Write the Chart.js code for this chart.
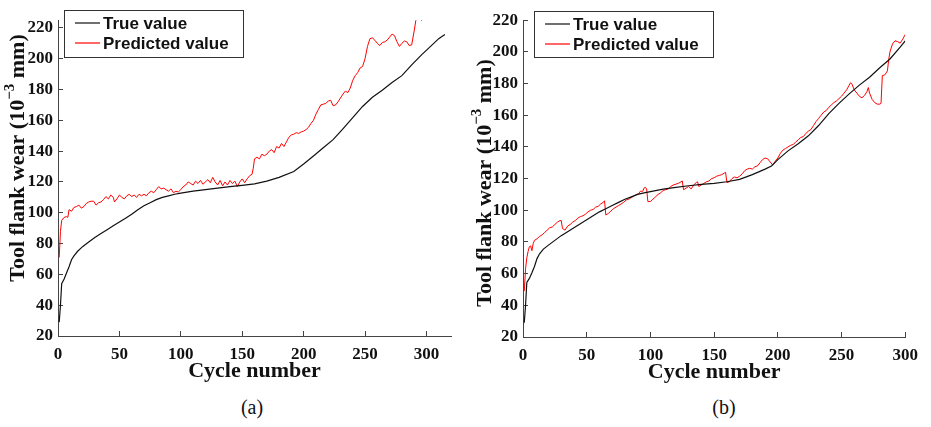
<!DOCTYPE html>
<html>
<head>
<meta charset="utf-8">
<script src="https://cdn.jsdelivr.net/npm/chart.js@4.4.0/dist/chart.umd.min.js"></script>
<style>
  body { margin: 0; background: #fff; width: 931px; height: 427px; position: relative; overflow: hidden; }
  .panel { position: absolute; top: 0; width: 465px; height: 390px; }
  .cap { position: absolute; top: 396px; width: 60px; text-align: center; font: 20px "Liberation Serif", serif; color: #111; }
</style>
</head>
<body>
<div class="panel" style="left:0"><canvas id="chartA"></canvas></div>
<div class="panel" style="left:466px"><canvas id="chartB"></canvas></div>
<div class="cap" style="left:222px">(a)</div>
<div class="cap" style="left:694px">(b)</div>
<script>
// ---- data ----
const yTicks = [20, 40, 60, 80, 100, 120, 140, 160, 180, 200, 220];
const xTicks = [0, 50, 100, 150, 200, 250, 300];

// (a)
const cycTrueA = [1,2,3,5,7,9,11,13,16,20,25,30,35,40,45,50,55,60,65,70,75,80,85,90,95,100,110,120,130,140,150,160,170,180,192,200,208,216,224,232,240,248,256,264,272,280,288,296,304,310,315];
const trueA    = [29,40,54,57,61,65,69.5,72,75,78,81,84,86.5,89,91.5,94,96.5,99,102,104.5,106.5,108.5,110,111,112,112.8,114,115,116,117,117.8,118.7,120.5,123,126.8,131.6,136.9,142.2,147.5,154.5,161.8,169,175,179.5,184.5,189,196,202.5,208.5,213,215.7];

const cycPredA = [1,2,3,5,7,8,9,11,13,15,17,19,21,23,25,27,29,31,33,35,37,39,41,43,45,46,48,50,52,54,56,58,60,62,64,66,68,70,72,74,76,78,80,82,84,86,88,90,92,94,96,98,100,102,104,106,108,110,112,114,116,118,120,122,124,126,128,130,132,134,136,138,140,142,144,146,148,150,152,154,156,158,159,160,162,164,166,168,170,172,174,176,178,180,182,184,186,188,190,192,194,196,198,200,202,204,206,208,210,212,214,216,218,220,222,224,226,228,230,232,234,236,238,240,242,244,246,248,250,252,254,256,258,260,262,264,266,268,270,272,274,276,278,280,282,284,286,288,290,292,294,296,298,300];
const predA    = [71,88,95,97,97.5,97,102,101,103.5,104,105,103,104,106,107,107.5,107.5,105,106.5,107,108.5,110.5,109,111.5,110,107,109,111.5,110,109,111,112,110.5,111.5,110,112,111,112,111,113,114,113,115,117,115.5,116,115,114,115.5,113,114,113.5,115,117,118,120,119,118,120.5,119,121,118.5,120,121.5,119.5,123,120,118,121,117.5,120,118,121,119,120.5,117,120,122,119.5,122,124,125,129,135,136,135,138,137,138,140,141,139,143,142,145,143,146,149,150.5,151,152,151.5,152.5,153,154,155.5,158,160,164,167,170,170.5,171,172.5,173,169.5,170,172,174.5,177,179,178,181,186,189,191,194,195,200,208,213,213.5,212,210,208.5,210.5,211,212,214,216,215,211,208,210,211.5,211,208.5,209,218,228,234,224.8,232,240];

// (b)
const cycTrueB = [1,2,3,5,7,9,11,13,16,20,25,30,35,40,45,50,55,60,65,70,75,80,85,90,95,100,110,120,130,140,150,160,170,180,190,195,200,208,216,224,232,240,248,256,264,272,280,288,296,300];
const trueB    = [29,40,54.5,57,60.5,64.5,69.5,72.5,75.5,78,81,84,86.5,89,91.5,94,96.5,99,101,103,105,107,108.5,110,111,111.8,113.3,114.5,115.5,116.3,117,118,119.5,122.5,126,128,132,137.5,142,147,153.5,161,167.5,173.5,179,184,190,195.5,203,207];

const cycPredB = [1,2,3,4,5,6,7,8,9,11,13,15,17,19,21,23,25,27,29,30,31,33,35,37,39,41,43,45,47,49,51,53,55,57,59,61,63,64,65,67,69,71,73,75,77,79,81,83,85,87,89,91,92,94,95,96,97,98,100,102,104,106,108,110,112,114,116,118,120,122,124,125,126,128,130,132,134,136,137,138,140,142,144,146,148,150,152,154,156,158,159,160,162,164,166,168,170,172,174,176,178,180,182,184,186,188,190,192,194,196,198,200,202,204,206,208,210,212,214,216,218,220,222,224,226,228,230,232,234,236,238,240,242,244,246,248,250,252,254,256,257,258,260,262,264,266,268,270,271,272,274,276,278,280,281,282,284,286,287,288,290,292,294,296,298,300];
const predB    = [49,63,70,74,77,77.5,74.5,79,81,82,83.5,84.5,86,87.5,89,89.5,91,92.5,93.5,93.5,88.5,87.5,90,91,92.5,93.5,95,96,96.5,97.5,99,100,100.5,102,102.5,104,105,106,97,98,99.5,101,102,103,104,105,106.5,107,108,109,110,110.5,112,112,114,114.5,113.5,105.5,105.5,107,108.5,110,111,112.5,113,113.5,115,116,116.5,117,118,118.5,113,114,115,113.5,116,117.5,118,115,116,117,118,118.5,120,120.5,121.5,122,122.5,123.5,124,117.5,118,120,121,120.5,121.5,123,125,126,126.5,126,127.5,128,130,132,133,132.5,130.5,128.5,131,133,136,138,139,140,141,141.5,143,144.5,146,146.5,148.5,150,151,153.5,156,158,160,162,163,165,166.5,168,169,170.5,172,174,176,179,180.5,180,176,174,172,171,172.5,175,177.5,174,170,168,167,167,167.5,185,185.5,188,195,200,205,207,206.5,205.5,208,211];

const seriesNames = ['True value', 'Predicted value'];
const seriesColors = ['#111111', '#ff0000'];

// ---- helpers ----
const serif = '"Liberation Serif", "Times New Roman", serif';
const pts = (xs, ys) => xs.map((x, i) => ({ x: x, y: ys[i] }));

const boxLegend = {
  id: 'boxLegend',
  afterDraw(chart, args, o) {
    const ctx = chart.ctx;
    ctx.save();
    ctx.strokeStyle = '#333';
    ctx.lineWidth = 1;
    ctx.strokeRect(o.x + 0.5, o.y + 0.5, o.w, o.h);
    ctx.font = 'bold 17px "Liberation Sans", Arial, sans-serif';
    ctx.textBaseline = 'middle';
    chart.data.datasets.forEach((ds, i) => {
      const yy = o.y + 13 + i * 20;
      ctx.strokeStyle = ds.borderColor;
      ctx.lineWidth = 1.2;
      ctx.beginPath();
      ctx.moveTo(o.x + 11, yy);
      ctx.lineTo(o.x + 36, yy);
      ctx.stroke();
      ctx.fillStyle = '#111';
      ctx.fillText(ds.label, o.x + 39, yy + 1);
    });
    ctx.restore();
  }
};

const yTitle = {
  id: 'yTitle',
  afterDraw(chart, args, o) {
    const ctx = chart.ctx;
    const big = 'bold 22px ' + serif, small = 'bold 15px ' + serif;
    const parts = [['Tool flank wear (10', big, 0], ['\u22123', small, 8], [' mm)', big, 0]];
    ctx.save();
    let total = 0;
    parts.forEach(p => { ctx.font = p[1]; total += ctx.measureText(p[0]).width; });
    ctx.translate(o.x, o.cy);
    ctx.rotate(-Math.PI / 2);
    ctx.fillStyle = '#111';
    ctx.textBaseline = 'middle';
    let pos = -total / 2;
    parts.forEach(p => {
      ctx.font = p[1];
      ctx.fillText(p[0], pos, 1 - p[2]);
      pos += ctx.measureText(p[0]).width;
    });
    ctx.restore();
  }
};

function makeChart(id, L, xs1, ys1, xs2, ys2) {
  const tickFont = { family: serif, weight: 'bold', size: 17 };
  return new Chart(document.getElementById(id), {
    type: 'line',
    data: {
      datasets: [
        { label: seriesNames[0], data: pts(xs1, ys1), borderColor: seriesColors[0], borderWidth: 1.2 },
        { label: seriesNames[1], data: pts(xs2, ys2), borderColor: seriesColors[1], borderWidth: 1 }
      ]
    },
    options: {
      responsive: true,
      maintainAspectRatio: false,
      animation: false,
      parsing: false,
      elements: { point: { radius: 0 }, line: { tension: 0 } },
      layout: { padding: { left: 0, top: L.top, right: L.right, bottom: 0 } },
      plugins: {
        legend: { display: false },
        tooltip: { enabled: false },
        boxLegend: L.legend,
        yTitle: L.ytitle
      },
      scales: {
        x: {
          type: 'linear', min: 0, max: L.xMax,
          afterBuildTicks: s => { s.ticks = xTicks.map(v => ({ value: v })); },
          afterFit: s => { s.height = L.xh; },
          border: { display: true, color: '#444', width: 1 },
          grid: { drawOnChartArea: false, drawTicks: true, tickLength: -5, color: '#444' },
          ticks: { font: tickFont, color: '#111', padding: 13, maxRotation: 0 },
          title: { display: true, text: 'Cycle number', color: '#111',
                   font: { family: serif, weight: 'bold', size: 22 }, padding: { top: 0, bottom: L.xtPad } }
        },
        y: {
          type: 'linear', min: 20, max: L.yMax,
          afterBuildTicks: s => { s.ticks = yTicks.map(v => ({ value: v })); },
          afterFit: s => { s.width = L.yw; },
          border: { display: true, color: '#444', width: 1 },
          grid: { drawOnChartArea: false, drawTicks: true, tickLength: -5, color: '#444' },
          ticks: { font: tickFont, color: '#111', padding: 10 }
        }
      }
    },
    plugins: [boxLegend, yTitle]
  });
}

makeChart('chartA', {
  top: 8, right: 14, xh: 54, yw: 58, xMax: 320, yMax: 225, xtPad: 5,
  legend: { x: 64, y: 10, w: 179, h: 47 },
  ytitle: { x: 17, cy: 158 }
}, cycTrueA, trueA, cycPredA, predA);

makeChart('chartB', {
  top: 9, right: 15, xh: 53, yw: 57, xMax: 300, yMax: 220, xtPad: 4,
  legend: { x: 68, y: 11, w: 179, h: 46 },
  ytitle: { x: 18, cy: 183 }
}, cycTrueB, trueB, cycPredB, predB);
</script>
</body>
</html>
